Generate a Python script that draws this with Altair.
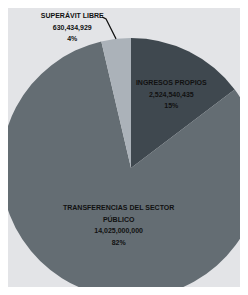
import math
import altair as alt
import pandas as pd

categories = ["INGRESOS PROPIOS", "TRANSFERENCIAS DEL SECTOR\nPÚBLICO", "SUPERÁVIT LIBRE"]
values = [2524540435, 14025000000, 630434929]
colors = ["#3f484f", "#646d73", "#abb2b9"]
order = [0, 1, 2]

total = sum(values)
labels = [f"{c}\n{v:,}\n{round(v / total * 100)}%" for c, v in zip(categories, values)]
df = pd.DataFrame({"cat": categories, "val": values, "ord": order, "label": labels})

W, H = 232, 279
CX, CY, R = 123, 160, 130

pie = alt.Chart(df).mark_arc(radius=R).encode(
    theta=alt.Theta("val:Q", stack=True),
    order=alt.Order("ord:Q"),
    x=alt.value(CX), y=alt.value(CY),
    color=alt.Color("cat:N", scale=alt.Scale(domain=categories, range=colors), legend=None),
)

txt_kw = dict(font="Liberation Sans", fontWeight="bold", fontSize=7,
              lineBreak="\n", lineHeight=11.5, align="center", baseline="middle", color="#111111")

lab_base = alt.Chart(df).transform_window(
    cum="sum(val)", sort=[alt.SortField("ord")]
).transform_calculate(
    mid="datum.cum - datum.val / 2"
).encode(
    theta=alt.Theta("mid:Q", stack=False),
    x=alt.value(CX), y=alt.value(CY),
    text="label:N",
)

lab_in = lab_base.mark_text(radius=86, dx=2, dy=-8, **txt_kw).transform_filter(alt.datum.ord == 0)
lab_tr = lab_base.mark_text(radius=60, dx=8, dy=-16, **txt_kw).transform_filter(alt.datum.ord == 1)
lab_su = lab_base.mark_text(radius=154, dx=-41, dy=1, **txt_kw).transform_filter(alt.datum.ord == 2)

# leader line for the small slice, anchored at its mid angle
start = sum(values[:2]) / total * 2 * math.pi
mid = start + values[2] / total * math.pi
ex, ey = CX + R * math.sin(mid), CY - R * math.cos(mid)
pts = pd.DataFrame({
    "px": [ex - 14, ex - 10, ex],
    "py": [ey - 22, ey - 20, ey],
    "i": [0, 1, 2],
})
leader = alt.Chart(pts).mark_line(color="#111111", strokeWidth=1.2).encode(
    x=alt.X("px:Q", scale=None, axis=None),
    y=alt.Y("py:Q", scale=None, axis=None),
    order="i:Q",
)

chart = alt.layer(pie, leader, lab_in, lab_tr, lab_su).properties(
    width=W, height=H, autosize=alt.AutoSizeParams(type="none"), padding=0,
    background="#e3e4e7",
).configure_view(stroke=None)

chart.save("out.html", embed_options={"renderer": "svg", "actions": False})
